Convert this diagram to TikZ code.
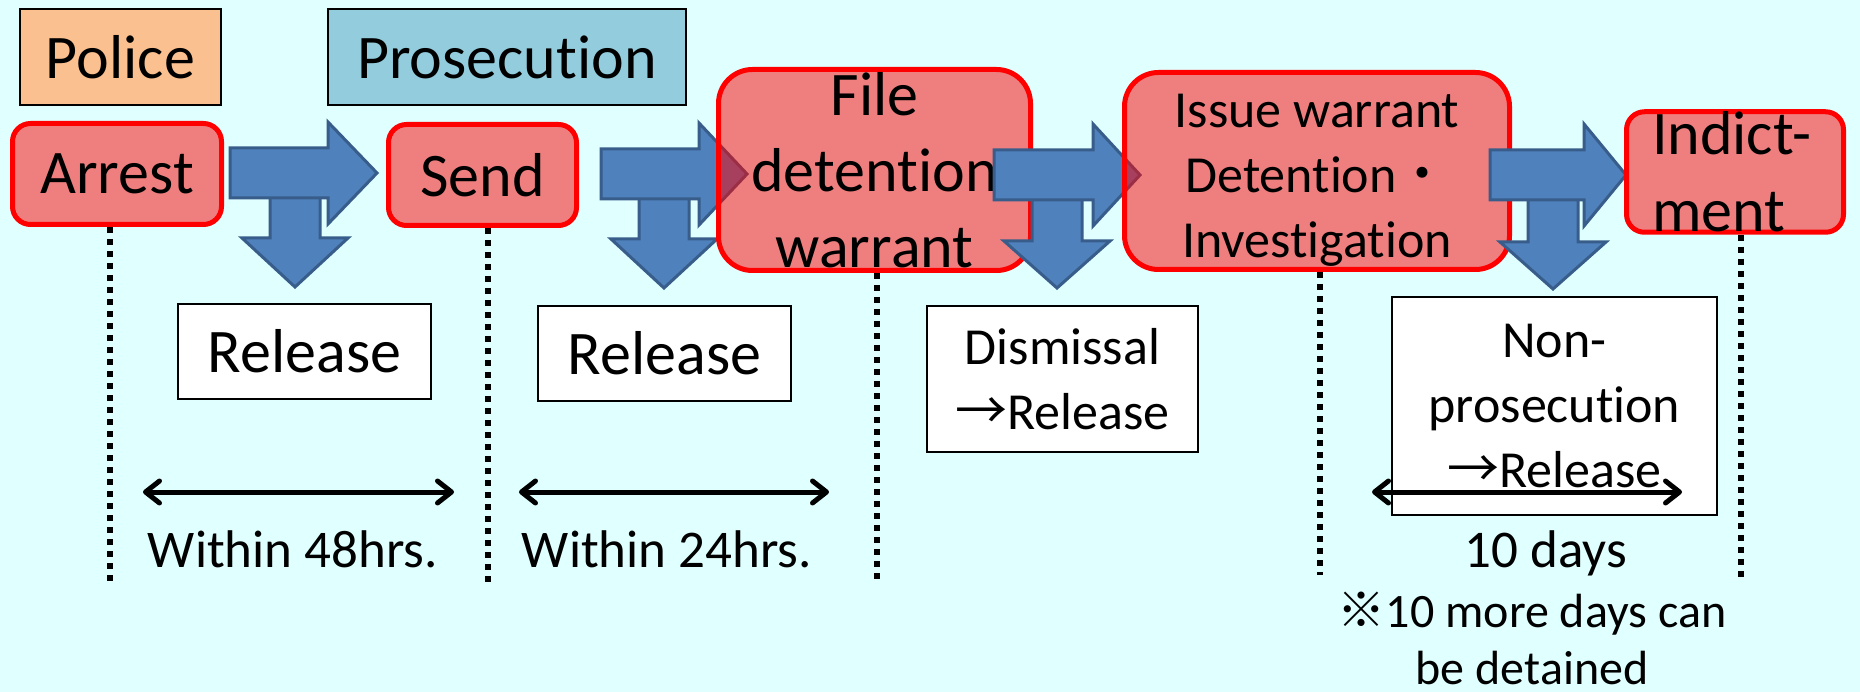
\documentclass[tikz,border=0pt]{standalone}
\usepackage{fontspec}
\setmainfont{Carlito}[Ligatures={NoCommon}]
\newfontfamily\cjk{Noto Sans CJK JP}
\usetikzlibrary{arrows.meta}
\definecolor{bgc}{RGB}{224,255,255}
\definecolor{policec}{RGB}{250,192,144}
\definecolor{prosc}{RGB}{147,205,221}
\definecolor{arrfill}{RGB}{79,129,189}
\definecolor{arrline}{RGB}{56,93,138}
\newcommand\rightblock[4]{\draw[blockarr] (#1,#4-25) -- (#2,#4-25) -- (#2,#4-51) -- (#3,#4) -- (#2,#4+51) -- (#2,#4+25) -- (#1,#4+25) -- cycle;}
\newcommand\downblock[4]{\draw[blockarr] (#1-25,#2) -- (#1+25,#2) -- (#1+25,#3) -- (#1+53,#3) -- (#1,#4) -- (#1-53,#3) -- (#1-25,#3) -- cycle;}
\begin{document}
\begin{tikzpicture}[x=1pt,y=-1pt,
  big/.style={font=\fontsize{62}{76}\selectfont},
  mid/.style={font=\fontsize{52}{65}\selectfont},
  low/.style={font=\fontsize{53}{57}\selectfont},
  hdr/.style={draw=black, line width=2pt, inner sep=0, big},
  stage/.style={draw=red, line width=5pt, fill=red, fill opacity=0.5, text opacity=1, inner sep=0, rounded corners=18pt},
  outbox/.style={draw=black, line width=2pt, fill=white, inner sep=0},
  blockarr/.style={fill=arrfill, draw=arrline, line width=3pt, line join=miter},
  dotline/.style={line width=6pt, dash pattern=on 6pt off 6pt},
  span/.style={line width=5pt, arrows={Straight Barb[length=14pt,width=22pt,round]-Straight Barb[length=14pt,width=22pt,round]}},
]
\fill[bgc] (0,0) rectangle (1860,692);
\useasboundingbox (0,0) rectangle (1860,692);

% headers
\node[hdr, fill=policec, minimum width=201pt, minimum height=96pt] (police) at (120.5,57) {Police};
\node[hdr, fill=prosc, minimum width=358pt, minimum height=96pt] (prosec) at (507,57) {Prosecution};

% outcome boxes
\node[outbox, big, minimum width=253pt, minimum height=95pt] (rel1) at (304.5,351.5) {Release};
\node[outbox, big, minimum width=253pt, minimum height=95pt] (rel2) at (664.5,353.5) {Release};
\node[outbox, mid, align=center, minimum width=271pt, minimum height=146pt] (dism) at (1062.5,379) {Dismissal\\{\cjk →}Release};
\node[outbox, mid, align=center, minimum width=325pt, minimum height=218pt] (nonp) at (1554.5,406) {Non-\\prosecution\\{\cjk →}Release};

% stages and block arrows
\downblock{295}{185}{238}{287}
\rightblock{230}{328}{377}{173}
\node[stage, big, minimum width=209pt, minimum height=101pt] (arrest) at (117,174) {Arrest};
\node[stage, big, minimum width=188pt, minimum height=101pt] (send) at (482.5,175) {Send};
\downblock{664}{185}{239}{288}
\rightblock{601}{699}{747}{174}
\node[stage, big, rounded corners=34pt, align=center, minimum width=312pt, minimum height=201pt] (file) at (874.5,170) {File\\detention\\warrant};
\downblock{1057}{185}{241}{288}
\rightblock{994}{1093}{1140}{175}
\node[stage, mid, rounded corners=34pt, align=center, minimum width=385pt, minimum height=197pt] (issue) at (1317,171) {\rule{0pt}{52pt}Issue warrant\\Detention{\cjk ・}\\Investigation};
\downblock{1553}{185}{242}{289}
\rightblock{1490}{1584}{1626}{175}
\node[stage, font=\fontsize{62}{77}\selectfont, align=left, text width=166pt, minimum width=217pt, minimum height=101pt] (indict) at (1735,172) {Indict-\\ment};

% dotted time markers
\coordinate (d1) at (110,583);
\coordinate (d2) at (488,582);
\coordinate (d3) at (877,582);
\coordinate (d4) at (1320,575);
\coordinate (d5) at (1741,582);
\draw[dotline] (arrest.south -| d1) -- (d1);
\draw[dotline] (send.south -| d2) -- (d2);
\draw[dotline] (file.south -| d3) -- (d3);
\draw[dotline] (issue.south -| d4) -- (d4);
\draw[dotline] (indict.south -| d5) -- (d5);

% spans
\coordinate (s1a) at (143,492); \coordinate (s1b) at (454,492);
\coordinate (s2a) at (519,492); \coordinate (s2b) at (829,492);
\coordinate (s3a) at (1372,492); \coordinate (s3b) at (1682,492);
\draw[span] (s1a) -- (s1b);
\draw[span] (s2a) -- (s2b);
\draw[span] (s3a) -- (s3b);

% labels
\node[low, anchor=base] (l48) at (293,567) {Within 48hrs.};
\node[low, anchor=base] (l24) at (667,567) {Within 24hrs.};
\node[low, anchor=base] (l10) at (1546,567) {10 days};
\node[font=\fontsize{48}{57}\selectfont, anchor=base, align=center, inner sep=0pt] (lmore) at (1532,684) {{\cjk ※}10 more days can\\be detained};
\end{tikzpicture}
\end{document}
